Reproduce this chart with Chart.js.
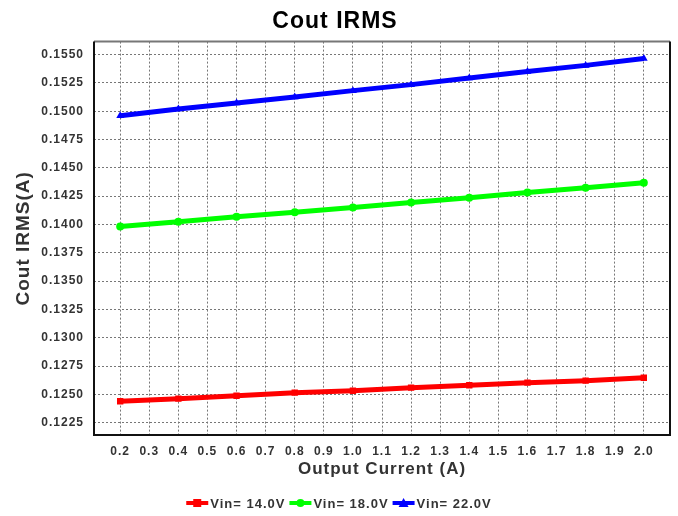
<!DOCTYPE html>
<html>
<head>
<meta charset="utf-8">
<script src="https://cdn.jsdelivr.net/npm/chart.js@4.4.1/dist/chart.umd.min.js"></script>
<style>
  html, body { margin: 0; padding: 0; background: #fff; }
  #wrap { width: 678px; height: 516px; }
</style>
</head>
<body>
<div id="wrap"><canvas id="chart" width="678" height="516"></canvas></div>
<script>
// data
const current = [0.2, 0.4, 0.6, 0.8, 1.0, 1.2, 1.4, 1.6, 1.8, 2.0];
const vin14 = [0.12439, 0.12462, 0.12488, 0.12515, 0.12532, 0.12559, 0.12580, 0.12603, 0.12621, 0.12647];
const vin18 = [0.13982, 0.14024, 0.14068, 0.14109, 0.14150, 0.14194, 0.14236, 0.14283, 0.14324, 0.14368];
const vin22 = [0.14961, 0.15020, 0.15073, 0.15126, 0.15182, 0.15235, 0.15294, 0.15350, 0.15405, 0.15465];
const xTicks = [0.2, 0.3, 0.4, 0.5, 0.6, 0.7, 0.8, 0.9, 1.0, 1.1, 1.2, 1.3, 1.4, 1.5, 1.6, 1.7, 1.8, 1.9, 2.0];
const yTicks = [0.1225, 0.1250, 0.1275, 0.1300, 0.1325, 0.1350, 0.1375, 0.1400, 0.1425, 0.1450, 0.1475, 0.1500, 0.1525, 0.1550];

const FONT = '"Liberation Sans", Arial, sans-serif';

const toPoints = (ys) => ys.map((y, i) => ({ x: current[i], y }));

const series = [
  { label: 'Vin= 14.0V', data: vin14, color: '#ff0000', style: 'rect', radius: 4.5 },
  { label: 'Vin= 18.0V', data: vin18, color: '#00ff00', style: 'circle', radius: 4 },
  { label: 'Vin= 22.0V', data: vin22, color: '#0000ff', style: 'triangle', radius: 4.5 },
];

// the old chart engine spaces its letters out a bit
// (set again before layout/draw since resizing the canvas resets the context)
const spacing = {
  id: 'spacing',
  beforeLayout(chart) { chart.ctx.letterSpacing = '1px'; },
  beforeDraw(chart) { chart.ctx.letterSpacing = '1px'; },
};

const frame = {
  id: 'frame',
  afterDatasetsDraw(chart) {
    const { ctx, chartArea: a } = chart;
    ctx.save();
    ctx.lineWidth = 2;
    ctx.strokeStyle = '#777';
    ctx.beginPath();
    ctx.moveTo(a.left, a.top); ctx.lineTo(a.right, a.top);
    ctx.stroke();
    ctx.strokeStyle = '#111';
    ctx.beginPath();
    ctx.moveTo(a.right, a.top); ctx.lineTo(a.right, a.bottom);
    ctx.lineTo(a.left, a.bottom); ctx.lineTo(a.left, a.top);
    ctx.stroke();
    ctx.restore();
  }
};

// legend row under the axis title: short thick line + marker, then the label
const lineLegend = {
  id: 'lineLegend',
  afterDraw(chart) {
    const ctx = chart.ctx;
    const y = 503, sw = 22, gap = 2, between = 4;
    ctx.save();
    ctx.letterSpacing = '1px';
    ctx.font = 'bold 13px ' + FONT;
    ctx.textBaseline = 'middle';
    const items = chart.data.datasets.map(d => ({ d, w: ctx.measureText(d.label).width }));
    const total = items.reduce((s, it) => s + sw + gap + it.w, 0) + between * (items.length - 1);
    let x = chart.width / 2 - total / 2;
    items.forEach(({ d, w }) => {
      ctx.fillStyle = d.borderColor;
      ctx.fillRect(x, y - 2, sw, 4);
      const cx = x + sw / 2;
      ctx.beginPath();
      if (d.pointStyle === 'rect') ctx.rect(cx - 4, y - 4, 8, 8);
      else if (d.pointStyle === 'circle') ctx.arc(cx, y, 4, 0, Math.PI * 2);
      else { ctx.moveTo(cx, y - 5); ctx.lineTo(cx + 5, y + 4); ctx.lineTo(cx - 5, y + 4); ctx.closePath(); }
      ctx.fill();
      x += sw + gap;
      ctx.fillStyle = '#333';
      ctx.textAlign = 'left';
      ctx.fillText(d.label, x, y + 1);
      x += w + between;
    });
    ctx.restore();
  }
};

new Chart(document.getElementById('chart'), {
  type: 'line',
  data: {
    datasets: series.map(s => ({
      label: s.label,
      data: toPoints(s.data),
      borderColor: s.color,
      backgroundColor: s.color,
      borderWidth: 5,
      pointStyle: s.style,
      pointRadius: s.radius,
      pointBorderWidth: 0,
      tension: 0,
    })),
  },
  options: {
    responsive: false,
    animation: false,
    layout: { padding: { left: 0, right: 8, top: 0, bottom: 36 } },
    plugins: {
      title: {
        display: true,
        text: 'Cout IRMS',
        color: '#000',
        font: { family: FONT, size: 23, weight: 'bold' },
        padding: { top: 8, bottom: 6 },
      },
      legend: { display: false },
      tooltip: { enabled: false },
    },
    scales: {
      x: {
        type: 'linear',
        min: 0.11,
        max: 2.09,
        afterBuildTicks: (axis) => { axis.ticks = xTicks.map(v => ({ value: v })); },
        afterFit: (axis) => { axis.height = 45; },
        grid: { color: '#777', lineWidth: 1, drawTicks: false },
        border: { display: false, dash: [2, 2] },
        ticks: {
          color: '#333',
          font: { family: FONT, size: 12, weight: 'bold' },
          padding: 9,
          maxRotation: 0,
          autoSkip: false,
          callback: (v) => Number(v).toFixed(1),
        },
        title: {
          display: true,
          text: 'Output Current (A)',
          color: '#333',
          font: { family: FONT, size: 17, weight: 'bold' },
          padding: { top: 0, bottom: 0 },
        },
      },
      y: {
        min: 0.12141,
        max: 0.15615,
        afterBuildTicks: (axis) => { axis.ticks = yTicks.map(v => ({ value: v })); },
        afterFit: (axis) => { axis.width = 94; },
        grid: { color: '#777', lineWidth: 1, drawTicks: false },
        border: { display: false, dash: [2, 2] },
        ticks: {
          color: '#333',
          font: { family: FONT, size: 12, weight: 'bold' },
          padding: 10,
          callback: (v) => Number(v).toFixed(4),
        },
        title: {
          display: true,
          text: 'Cout IRMS(A)',
          color: '#333',
          font: { family: FONT, size: 19, weight: 'bold' },
          padding: { top: 12, bottom: 4 },
        },
      },
    },
  },
  plugins: [spacing, frame, lineLegend],
});
</script>
</body>
</html>
